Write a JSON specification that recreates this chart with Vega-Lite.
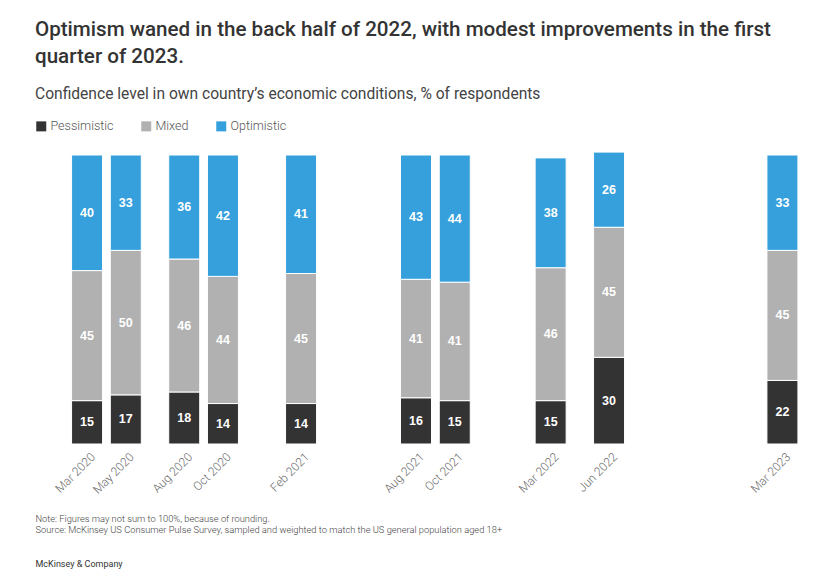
{
  "$schema": "https://vega.github.io/schema/vega-lite/v6.json",
  "width": 776,
  "height": 289,
  "autosize": {"type": "none"},
  "padding": {"left": 35, "top": 155, "right": 14, "bottom": 134},
  "background": "white",
  "config": {"view": {"stroke": null}},
  "title": {
    "text": ["Optimism waned in the back half of 2022, with modest improvements in the first", "quarter of 2023."],
    "subtitle": "Confidence level in own country’s economic conditions, % of respondents",
    "anchor": "start",
    "frame": "group",
    "font": "Roboto",
    "fontSize": 20.6,
    "fontWeight": 500,
    "color": "#333333",
    "lineHeight": 27,
    "subtitleFont": "Roboto",
    "subtitleFontSize": 15.6,
    "subtitleColor": "#444444",
    "subtitlePadding": 20,
    "offset": 17
  },
  "data": {
    "values": [
      {"date": "2020-03-01", "group": "Pessimistic", "rank": 1, "value": 15},
      {"date": "2020-03-01", "group": "Mixed", "rank": 2, "value": 45},
      {"date": "2020-03-01", "group": "Optimistic", "rank": 3, "value": 40},
      {"date": "2020-05-01", "group": "Pessimistic", "rank": 1, "value": 17},
      {"date": "2020-05-01", "group": "Mixed", "rank": 2, "value": 50},
      {"date": "2020-05-01", "group": "Optimistic", "rank": 3, "value": 33},
      {"date": "2020-08-01", "group": "Pessimistic", "rank": 1, "value": 18},
      {"date": "2020-08-01", "group": "Mixed", "rank": 2, "value": 46},
      {"date": "2020-08-01", "group": "Optimistic", "rank": 3, "value": 36},
      {"date": "2020-10-01", "group": "Pessimistic", "rank": 1, "value": 14},
      {"date": "2020-10-01", "group": "Mixed", "rank": 2, "value": 44},
      {"date": "2020-10-01", "group": "Optimistic", "rank": 3, "value": 42},
      {"date": "2021-02-01", "group": "Pessimistic", "rank": 1, "value": 14},
      {"date": "2021-02-01", "group": "Mixed", "rank": 2, "value": 45},
      {"date": "2021-02-01", "group": "Optimistic", "rank": 3, "value": 41},
      {"date": "2021-08-01", "group": "Pessimistic", "rank": 1, "value": 16},
      {"date": "2021-08-01", "group": "Mixed", "rank": 2, "value": 41},
      {"date": "2021-08-01", "group": "Optimistic", "rank": 3, "value": 43},
      {"date": "2021-10-01", "group": "Pessimistic", "rank": 1, "value": 15},
      {"date": "2021-10-01", "group": "Mixed", "rank": 2, "value": 41},
      {"date": "2021-10-01", "group": "Optimistic", "rank": 3, "value": 44},
      {"date": "2022-03-01", "group": "Pessimistic", "rank": 1, "value": 15},
      {"date": "2022-03-01", "group": "Mixed", "rank": 2, "value": 46},
      {"date": "2022-03-01", "group": "Optimistic", "rank": 3, "value": 38},
      {"date": "2022-06-01", "group": "Pessimistic", "rank": 1, "value": 30},
      {"date": "2022-06-01", "group": "Mixed", "rank": 2, "value": 45},
      {"date": "2022-06-01", "group": "Optimistic", "rank": 3, "value": 26},
      {"date": "2023-03-01", "group": "Pessimistic", "rank": 1, "value": 22},
      {"date": "2023-03-01", "group": "Mixed", "rank": 2, "value": 45},
      {"date": "2023-03-01", "group": "Optimistic", "rank": 3, "value": 33}
    ]
  },
  "encoding": {
    "x": {
      "field": "date",
      "type": "temporal",
      "scale": {
        "type": "utc",
        "padding": 0,
        "domain": [
          {"year": 2019, "month": 12, "date": 10, "utc": true},
          {"year": 2023, "month": 4, "date": 15, "utc": true}
        ]
      },
      "axis": {
        "values": [
          {"year": 2020, "month": 3, "date": 1, "utc": true},
          {"year": 2020, "month": 5, "date": 1, "utc": true},
          {"year": 2020, "month": 8, "date": 1, "utc": true},
          {"year": 2020, "month": 10, "date": 1, "utc": true},
          {"year": 2021, "month": 2, "date": 1, "utc": true},
          {"year": 2021, "month": 8, "date": 1, "utc": true},
          {"year": 2021, "month": 10, "date": 1, "utc": true},
          {"year": 2022, "month": 3, "date": 1, "utc": true},
          {"year": 2022, "month": 6, "date": 1, "utc": true},
          {"year": 2023, "month": 3, "date": 1, "utc": true}
        ],
        "format": "%b %Y",
        "labelAngle": -45,
        "ticks": false,
        "domain": false,
        "grid": false,
        "labelColor": "#6a6a6a",
        "labelFont": "Roboto",
        "labelFontSize": 12,
        "labelFontWeight": 300,
        "labelPadding": 7,
        "labelOffset": 2,
        "labelOverlap": false,
        "labelBound": false,
        "labelFlush": false,
        "title": ["Note: Figures may not sum to 100%, because of rounding.", "Source: McKinsey US Consumer Pulse Survey, sampled and weighted to match the US general population aged 18+"],
        "titleFont": "Roboto",
        "titleFontSize": 9.3,
        "titleFontWeight": 300,
        "titleColor": "#444444",
        "titleAlign": "left",
        "titleAnchor": "start",
        "titleBaseline": "top",
        "titleLineHeight": 11.5,
        "titleX": 0,
        "titleY": 70
      }
    },
    "y": {
      "field": "value",
      "type": "quantitative",
      "stack": "zero",
      "scale": {"domain": [0, 100]},
      "axis": {
        "labels": false,
        "ticks": false,
        "domain": false,
        "grid": false,
        "title": "McKinsey & Company",
        "titleAngle": 0,
        "titleAlign": "left",
        "titleBaseline": "top",
        "titleX": 0,
        "titleY": 404,
        "titleFont": "Roboto",
        "titleFontSize": 9,
        "titleFontWeight": 400,
        "titleColor": "#333333"
      }
    },
    "order": {"field": "rank", "type": "quantitative", "sort": "ascending"},
    "color": {
      "field": "group",
      "type": "nominal",
      "scale": {
        "domain": ["Pessimistic", "Mixed", "Optimistic"],
        "range": ["#333333", "#b1b1b1", "#35a0dc"]
      },
      "legend": {
        "orient": "none",
        "legendX": 0,
        "legendY": -35,
        "direction": "horizontal",
        "title": null,
        "symbolType": "square",
        "symbolSize": 100,
        "symbolStrokeWidth": 0,
        "labelFont": "Roboto",
        "labelFontSize": 12.5,
        "labelFontWeight": 300,
        "labelColor": "#555555",
        "columnPadding": 26,
        "labelOffset": 3
      }
    }
  },
  "layer": [
    {
      "mark": {"type": "bar", "size": 31, "stroke": "white", "strokeWidth": 1}
    },
    {
      "mark": {"type": "text", "font": "Liberation Sans", "fontWeight": "bold", "fontSize": 12.5, "baseline": "middle"},
      "encoding": {
        "y": {"field": "value", "type": "quantitative", "stack": "zero", "bandPosition": 0.5},
        "text": {"field": "value", "type": "quantitative"},
        "fill": {"value": "white"}
      }
    }
  ]
}
